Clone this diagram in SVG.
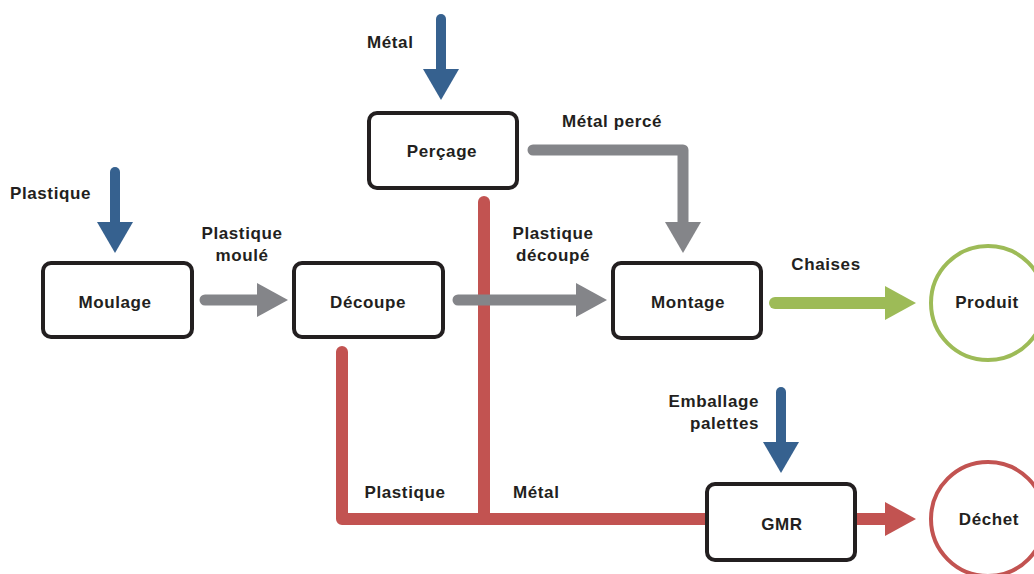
<svg xmlns="http://www.w3.org/2000/svg" width="1034" height="574" viewBox="0 0 1034 574">
<style>
.box{fill:#fff;stroke:#231f20;stroke-width:4}
.t{font-family:"Liberation Sans",Arial,sans-serif;font-weight:bold;font-size:17px;letter-spacing:0.6px;fill:#231f20}
.c{text-anchor:middle}
.blue{stroke:#36618f;fill:none;stroke-width:10;stroke-linecap:round}
.gray{stroke:#848589;fill:none;stroke-width:11;stroke-linecap:round;stroke-linejoin:round}
.green{stroke:#9dbb57;fill:none;stroke-width:12;stroke-linecap:round}
.red{stroke:#c25351;fill:none;stroke-width:12;stroke-linecap:round;stroke-linejoin:round}
</style>
<rect width="1034" height="574" fill="#fff"/>
<g id="connectors">
  <path class="red" d="M342 352 V519 H710"/>
  <path class="red" d="M484 202 V519"/>
  <path class="red" d="M856 519 H888" style="stroke-linecap:butt"/>
  <polygon points="885,502 916,519 885,536" fill="#c25351"/>
  <path class="blue" d="M115 172 V224"/>
  <polygon points="97,222 133,222 115,253" fill="#36618f"/>
  <path class="blue" d="M441 19 V71"/>
  <polygon points="423,69 459,69 441,100" fill="#36618f"/>
  <path class="blue" d="M781 392 V444"/>
  <polygon points="763,442 799,442 781,473" fill="#36618f"/>
  <path class="gray" d="M205 300 H260"/>
  <polygon points="257,283 288,300 257,317" fill="#848589"/>
  <path class="gray" d="M458 300 H579"/>
  <polygon points="576,283 607,300 576,317" fill="#848589"/>
  <path class="gray" d="M533 150 H683 V225"/>
  <polygon points="665,222 701,222 683,253" fill="#848589"/>
  <path class="green" d="M775 303 H888"/>
  <polygon points="885,286 916,303 885,320" fill="#9dbb57"/>
</g>
<g id="moulage"><rect class="box" x="43" y="263" width="149" height="74" rx="8"/><text class="t c" x="115" y="308">Moulage</text></g>
<g id="decoupe"><rect class="box" x="294" y="263" width="149" height="74" rx="8"/><text class="t c" x="368" y="308">Découpe</text></g>
<g id="percage"><rect class="box" x="369" y="113" width="148" height="75" rx="8"/><text class="t c" x="442" y="157">Perçage</text></g>
<g id="montage"><rect class="box" x="613" y="263" width="148" height="75" rx="8"/><text class="t c" x="688" y="308">Montage</text></g>
<g id="gmr"><rect class="box" x="707" y="484" width="148" height="76" rx="8"/><text class="t c" x="782" y="530">GMR</text></g>
<g id="produit"><circle cx="988" cy="303" r="57" fill="#fff" stroke="#9dbb57" stroke-width="4"/><text class="t c" x="987" y="308">Produit</text></g>
<g id="dechet"><circle cx="988" cy="519" r="57" fill="#fff" stroke="#c25351" stroke-width="4"/><text class="t c" x="989" y="525">Déchet</text></g>
<g id="labels">
  <text class="t" x="10" y="199">Plastique</text>
  <text class="t c" x="242" y="239">Plastique</text>
  <text class="t c" x="242" y="261">moulé</text>
  <text class="t" x="367" y="48">Métal</text>
  <text class="t c" x="612" y="127">Métal percé</text>
  <text class="t c" x="553" y="239">Plastique</text>
  <text class="t c" x="553" y="261">découpé</text>
  <text class="t c" x="826" y="270">Chaises</text>
  <text class="t" x="759" y="407" text-anchor="end">Emballage</text>
  <text class="t" x="759" y="429" text-anchor="end">palettes</text>
  <text class="t c" x="405" y="498">Plastique</text>
  <text class="t" x="513" y="498">Métal</text>
</g>
</svg>
